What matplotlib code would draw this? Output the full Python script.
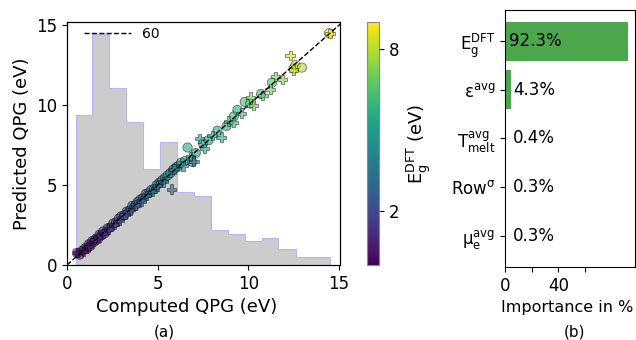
import matplotlib
matplotlib.use("Agg")
import matplotlib.pyplot as plt
import numpy as np

plt.rcParams['mathtext.default'] = 'regular'

# scatter data: circles (computed, predicted, Eg DFT)
circ_x = [0.55, 0.7, 0.85, 1.0, 1.1, 1.2, 1.3, 1.4, 1.5, 1.6, 1.7, 1.8, 1.9, 2.0, 2.1,
          2.25, 2.4, 2.55, 2.7, 2.85, 3.0, 3.15, 3.3, 3.45, 3.6, 3.75, 3.9, 4.05, 4.2,
          4.35, 4.5, 4.65, 4.8, 4.95, 5.1, 5.25, 5.4, 5.55, 5.7, 5.85, 6.0, 6.15, 6.3,
          6.5, 6.65, 6.9, 7.1, 7.5, 7.8, 8.3, 8.8, 9.2, 9.4, 9.8, 10.1, 10.7, 11.3,
          12.5, 12.6, 12.95, 14.45]
circ_y = [0.75, 0.65, 0.9, 1.05, 1.0, 1.3, 1.2, 1.5, 1.45, 1.65, 1.6, 1.9, 1.85, 2.1, 2.0,
          2.3, 2.35, 2.6, 2.65, 2.9, 3.05, 3.1, 3.35, 3.4, 3.7, 3.7, 3.95, 4.1, 4.2,
          4.45, 4.5, 4.7, 4.75, 5.0, 5.15, 5.3, 5.45, 5.6, 5.75, 5.95, 6.1, 6.2, 6.4,
          6.5, 7.35, 6.45, 7.0, 7.6, 7.8, 8.4, 8.7, 9.3, 9.7, 10.2, 10.1, 10.7, 11.4,
          12.3, 12.5, 12.35, 14.5]
circ_c = [0.3, 0.5, 0.4, 0.6, 0.7, 0.5, 0.8, 0.9, 0.7, 1.0, 1.1, 0.9, 1.2, 1.3, 1.1,
          1.4, 1.6, 1.5, 1.8, 1.7, 2.0, 2.1, 2.2, 2.4, 2.3, 2.6, 2.7, 2.6, 2.9,
          3.0, 3.1, 3.3, 3.2, 3.5, 3.6, 3.7, 3.8, 3.9, 4.0, 4.1, 4.2, 4.3, 4.4,
          4.5, 5.5, 2.9, 4.8, 5.0, 5.2, 5.4, 5.6, 5.9, 5.7, 6.3, 6.4, 6.2, 6.6,
          8.3, 8.6, 7.8, 8.9]

# scatter data: plus markers
plus_x = [0.6, 0.9, 1.2, 1.5, 1.75, 2.0, 2.3, 2.6, 2.9, 3.2, 3.5, 3.8, 4.1, 4.4, 4.7,
          5.0, 5.3, 5.75, 5.9, 6.4, 6.8, 7.0, 7.3, 7.6, 8.0, 8.5, 8.9, 9.2, 9.6, 10.1,
          10.3, 10.8, 11.2, 11.5, 11.9, 12.3, 12.5, 14.5]
plus_y = [0.8, 0.85, 1.15, 1.6, 1.7, 1.95, 2.25, 2.55, 2.8, 3.15, 3.45, 3.75, 4.0, 4.35, 4.6,
          4.95, 5.2, 4.75, 6.0, 6.2, 6.8, 6.5, 7.9, 7.3, 8.1, 8.0, 9.0, 8.9, 9.5, 10.5,
          10.0, 10.6, 11.0, 11.8, 11.6, 13.1, 12.2, 14.5]
plus_c = [0.4, 0.5, 0.6, 0.8, 0.9, 1.2, 1.3, 1.6, 1.9, 2.1, 2.3, 2.5, 2.8, 3.0, 3.1,
          3.4, 3.6, 2.8, 4.0, 4.3, 4.5, 3.0, 5.0, 5.1, 5.3, 5.5, 5.8, 6.0, 6.1, 7.0,
          7.2, 6.6, 6.9, 7.1, 7.3, 8.5, 8.0, 8.7]

# histogram of computed QPG
hist_edges = [0.48, 1.38, 2.31, 3.26, 4.18, 5.12, 6.07, 6.99, 7.94, 8.88, 9.81,
              10.75, 11.66, 12.62, 13.53, 14.5]
hist_counts = [39, 60, 46, 37, 25, 32, 19, 18, 9.2, 8.1, 6.1, 7.1, 4.2, 2.2, 2.2]

# feature importance
features = [r'$E_g^{DFT}$', r'$\epsilon^{avg}$', r'$T_{melt}^{avg}$',
            r'$Row^{\sigma}$', r'$\mu_e^{avg}$']
importance = [92.3, 4.3, 0.4, 0.3, 0.3]

fig = plt.figure(figsize=(6.36, 3.4), dpi=100)

ax = fig.add_axes([0.1053, 0.2206, 0.4292, 0.7147])
ax2 = ax.twinx()
ax2.stairs(hist_counts, hist_edges, fill=True, color='#cccccc', zorder=0)
ax2.stairs(hist_counts, hist_edges, color='#b8b8f0', lw=0.8, zorder=1)
ax2.set_ylim(0, 63)
ax2.set_yticks([])
ax.set_zorder(ax2.get_zorder() + 1)
ax.patch.set_visible(False)

sc = ax.scatter(circ_x, circ_y, c=circ_c, cmap='viridis', vmin=0, vmax=9, marker='o',
                s=45, alpha=0.6, edgecolors='k', linewidths=0.5)
ax.scatter(plus_x, plus_y, c=plus_c, cmap='viridis', vmin=0, vmax=9, marker='P',
           s=45, alpha=0.6, edgecolors='k', linewidths=0.5)
ax.plot([0, 15.2], [0, 15.2], 'k--', lw=1, label='60')
ax.legend(loc='upper left', bbox_to_anchor=(0.045, 1.0), frameon=False, fontsize=10,
          handlelength=3.4, borderaxespad=0.2, borderpad=0.15, handletextpad=0.8)
ax.set_xlim(0, 15.05)
ax.set_ylim(0, 15.2)
ax.set_xticks([0, 5, 10, 15])
ax.set_yticks([0, 5, 10, 15])
ax.tick_params(labelsize=12)
ax.set_xlabel('Computed QPG (eV)', fontsize=13)
ax.xaxis.set_label_coords(0.44, -0.135)
ax.set_ylabel('Predicted QPG (eV)', fontsize=13)

cax = fig.add_axes([0.577, 0.2206, 0.0189, 0.7147])
cb = fig.colorbar(sc, cax=cax)
cb.solids.set_alpha(1)
cb.set_ticks([2, 8])
cb.ax.tick_params(labelsize=12)
cb.outline.set_edgecolor('#888888')
cb.set_label(r'$E_g^{DFT}$ (eV)', fontsize=13)

bx = fig.add_axes([0.794, 0.2147, 0.204, 0.756])
ypos = np.arange(len(features))
bx.barh(ypos, importance, height=0.8, color='#4ca64c')
bx.set_yticks(ypos)
bx.set_yticklabels(features, fontsize=12)
bx.invert_yaxis()
bx.set_xlim(0, 97)
bx.set_xticks([0, 20, 40, 60])
bx.set_xticklabels(['0', '', '40', ''])
bx.tick_params(labelsize=12)
bx.set_xlabel('Importance in %', fontsize=11.5)
bx.xaxis.set_label_coords(0.48, -0.13)
text_x = [3, 6, 6, 6, 6]
for i, v in enumerate(importance):
    bx.text(text_x[i], i, '%.1f%%' % v, va='center', ha='left', fontsize=12)

fig.text(0.259, 0.01, '(a)', ha='center', fontsize=11)
fig.text(0.903, 0.01, '(b)', ha='center', fontsize=11)

fig.savefig('out.png', dpi=100)
